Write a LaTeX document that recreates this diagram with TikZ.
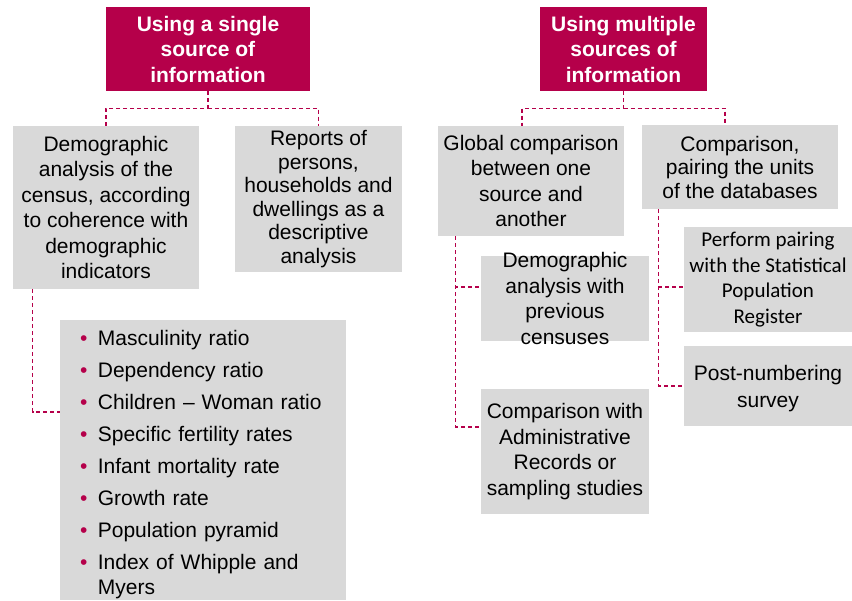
\documentclass[tikz,border=0pt]{standalone}
\usepackage{fontspec}
\setmainfont{Liberation Sans}
\newfontfamily\calibfont{Carlito}
\usepackage{tikz}
\usetikzlibrary{positioning}
\definecolor{crim}{RGB}{181,0,74}
\definecolor{boxgray}{RGB}{217,217,217}
\newcommand{\txt}[1][25.5]{\fontsize{21}{#1}\selectfont}
\newcommand{\bul}{\textcolor{crim}{•}}
\tikzset{
  head/.style={fill=crim, text=white, font=\txt\bfseries, align=center, inner sep=0pt},
  gbox/.style={fill=boxgray, text=black, font=\txt, align=center, inner sep=0pt},
  link/.style={draw=crim, line width=1.2pt, dash pattern=on 4pt off 3pt},
}
\begin{document}
\begin{tikzpicture}[x=1pt, y=-1pt]
    \useasboundingbox (0,0) rectangle (852,601);
    \node[head, minimum width=204pt, minimum height=84pt] (hdr1) at (208,49) {Using a single\\source of\\information};
    \node[head, minimum width=167pt, minimum height=84pt] (hdr2) at (623.5,49) {Using multiple\\sources of\\information};
    \node[gbox, minimum width=186pt, minimum height=163pt] (demo) at (106,207.5) {Demographic\\analysis of the\\census, according\\to coherence with\\demographic\\indicators};
    \node[gbox, font={\txt[23.5]}, minimum width=167pt, minimum height=146pt] (rep) at (318.5,199) {Reports of\\persons,\\households and\\dwellings as a\\descriptive\\analysis};
    \node[gbox, align=left, text width=246pt, inner xsep=20pt, minimum height=280pt, font={\txt[24.5]}] (ind) at (203,460) {%
        \raisebox{-5pt}[\height][\depth]{\begin{tabular}{@{}l@{\hspace{10.5pt}}l@{}}
        \bul & Masculinity ratio\\[7.5pt]
        \bul & Dependency ratio\\[7.5pt]
        \bul & Children -- Woman ratio\\[7.5pt]
        \bul & Specific fertility rates\\[7.5pt]
        \bul & Infant mortality rate\\[7.5pt]
        \bul & Growth rate\\[7.5pt]
        \bul & Population pyramid\\[7.5pt]
        \bul & Index of Whipple and\\
             & Myers
        \end{tabular}}};
    \node[gbox, minimum width=186pt, minimum height=110pt] (glob) at (531,181) {Global comparison\\between one\\source and\\another};
    \node[gbox, font={\txt[23.5]}, minimum width=196pt, minimum height=84pt] (pair) at (740,167) {Comparison,\\pairing the units\\of the databases};
    \node[gbox, inner ysep=-6pt, minimum width=168pt, minimum height=85pt] (prev) at (565,298.5) {Demographic\\analysis with\\previous\\censuses};
    \node[gbox, font=\calibfont\txt, minimum width=168pt, minimum height=105pt] (reg) at (768,279.5) {Perform pairing\\with the Statistical\\Population\\Register};
    \node[gbox, minimum width=168pt, minimum height=125pt] (admin) at (565,451.5) {Comparison with\\Administrative\\Records or\\sampling studies};
    \node[gbox, font={\txt[27]}, minimum width=168pt, minimum height=80pt] (post) at (768,386) {\raisebox{-3pt}[\height][\depth]{Post-numbering}\\\raisebox{-3pt}[\height][\depth]{survey}};
    \draw[link] (hdr1.south) -- ++(0,17) coordinate (bus1) -| (demo.north);
    \draw[link] (bus1) -| (rep.north);
    \draw[link] (hdr2.south) -- ++(0,17) coordinate (bus2) -| ([xshift=-9pt]glob.north);
    \draw[link] (bus2) -| ([xshift=-15pt]pair.north);
    \draw[link] ([xshift=20pt]demo.south west) |- ([yshift=48pt]ind.west);
    \draw[link] ([xshift=18pt]glob.south west) |- ([yshift=24.5pt]admin.west);
    \draw[link] ([xshift=18pt]glob.south west) |- ([yshift=11.5pt]prev.west);
    \draw[link] ([xshift=17pt]pair.south west) |- (post.west);
    \draw[link] ([xshift=17pt]pair.south west) |- ([yshift=-7.5pt]reg.west);
\end{tikzpicture}
\end{document}
